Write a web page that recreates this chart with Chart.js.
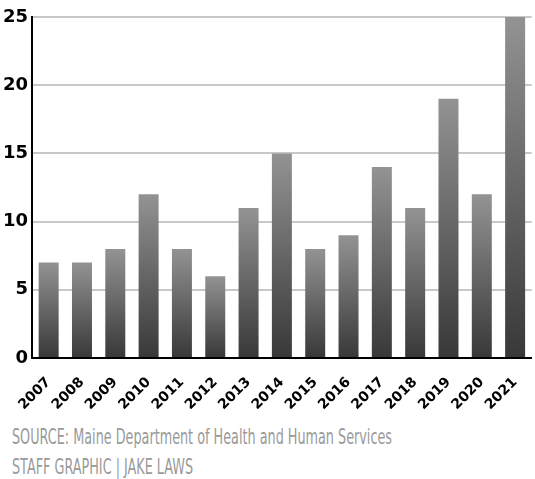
<!DOCTYPE html>
<html>
<head>
<meta charset="utf-8">
<script src="https://cdn.jsdelivr.net/npm/chart.js@4/dist/chart.umd.min.js"></script>
<style>
  html, body { margin: 0; padding: 0; background: #fff; }
  #wrap { position: relative; width: 535px; height: 412px; }
  .note { font-family: "DejaVu Sans", sans-serif; color: #9a9a9a; font-size: 22px; margin-left: 12px; line-height: 30px; white-space: nowrap; transform-origin: 0 50%; }
</style>
</head>
<body>
<div id="wrap"><canvas id="c" width="535" height="412"></canvas></div>
<div class="note" id="n1" style="margin-top:10px">SOURCE: Maine Department of Health and Human Services</div>
<div class="note" id="n2">STAFF GRAPHIC | JAKE LAWS</div>
<script>
const years = ["2007","2008","2009","2010","2011","2012","2013","2014","2015","2016","2017","2018","2019","2020","2021"];
const counts = [7, 7, 8, 12, 8, 6, 11, 15, 8, 9, 14, 11, 19, 12, 25];
const yTicks = [0, 5, 10, 15, 20, 25];

const fontFam = '"DejaVu Sans", sans-serif';

// squeeze the footer text to the reference's narrow width
(function () {
  const n1 = document.getElementById('n1');
  const n2 = document.getElementById('n2');
  const r = document.createRange();
  r.selectNodeContents(n1);
  const w = r.getBoundingClientRect().width;
  const k = 380 / w;
  n1.style.transform = 'scaleX(' + k + ')';
  n2.style.transform = 'scaleX(' + k + ')';
})();

function barGradient(context) {
  const chart = context.chart;
  const area = chart.chartArea;
  if (!area) return '#777';
  const ys = chart.scales.y;
  const top = ys.getPixelForValue(context.raw);
  const bot = ys.getPixelForValue(0);
  const g = chart.ctx.createLinearGradient(0, top, 0, bot);
  g.addColorStop(0, '#939393');
  g.addColorStop(1, '#383838');
  return g;
}

new Chart(document.getElementById('c'), {
  type: 'bar',
  data: {
    labels: years,
    datasets: [{
      data: counts,
      backgroundColor: barGradient,
      borderWidth: 0,
      barPercentage: 0.6,
      categoryPercentage: 1.0
    }]
  },
  options: {
    responsive: false,
    animation: false,
    layout: { padding: { top: 17, right: 0, left: 0, bottom: 0 } },
    plugins: { legend: { display: false }, tooltip: { enabled: false } },
    scales: {
      x: {
        grid: { display: false },
        border: { color: '#000', width: 2 },
        ticks: {
          color: '#000',
          font: { family: fontFam, size: 14, weight: 'bold' },
          minRotation: 45, maxRotation: 45,
          autoSkip: false,
          padding: 8
        },
        afterFit: s => { s.height = 54; }
      },
      y: {
        min: 0, max: 25,
        afterBuildTicks: s => { s.ticks = yTicks.map(v => ({ value: v })); },
        grid: { color: '#c8c8c8', lineWidth: 2, drawTicks: false },
        border: { color: '#000', width: 2 },
        ticks: {
          color: '#000',
          font: { family: fontFam, size: 18, weight: 'bold' },
          padding: 4
        },
        afterFit: s => { s.width = 32; }
      }
    }
  }
});
</script>
</body>
</html>
